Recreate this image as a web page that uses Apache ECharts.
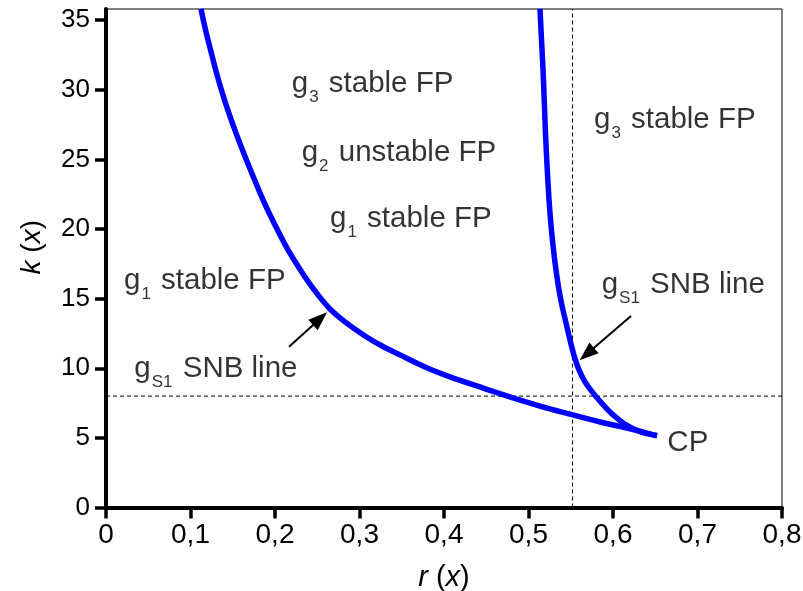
<!DOCTYPE html>
<html><head><meta charset="utf-8">
<script src="https://cdn.jsdelivr.net/npm/echarts@6/dist/echarts.min.js"></script>
<style>html,body{margin:0;padding:0;background:#fff}#c{width:803px;height:591px}</style>
</head><body><div id="c"></div>
<script>
// ---- data ----
const lowerBranch = [
  [0.1124,35.81],[0.1178,34.30],[0.1237,32.87],[0.1314,31.07],[0.1402,29.27],
  [0.1503,27.48],[0.1615,25.68],[0.1734,23.89],[0.1858,22.09],[0.2000,20.29],
  [0.2154,18.50],[0.2355,16.56],[0.2509,15.27],[0.2651,14.26],[0.2828,13.33],
  [0.3065,12.32],[0.3266,11.60],[0.3479,10.96],[0.3775,10.09],[0.4071,9.38],
  [0.4462,8.58],[0.4864,7.79],[0.5254,7.08],[0.5527,6.65],[0.5846,6.14],
  [0.6166,5.71],[0.6521,5.14]
];
const upperBranch = [
  [0.5136,35.81],[0.5154,33.59],[0.5172,31.43],[0.5186,29.27],[0.5201,26.90],
  [0.5219,24.60],[0.5243,22.09],[0.5266,20.29],[0.5296,18.50],[0.5325,17.06],
  [0.5361,15.63],[0.5400,14.40],[0.5444,13.25],[0.5491,12.03],[0.5544,10.81],
  [0.5598,9.88],[0.5669,9.02],[0.5763,8.23],[0.5864,7.51],[0.5964,6.86],
  [0.6059,6.36],[0.6154,5.93],[0.6272,5.57],[0.6391,5.32],[0.6521,5.17]
];
const hLineK = 8;
const vLineR = 0.552;
const xMin = 0, xMax = 0.8;
const yMin = 0, yMax = 35.8;
const xTicks = [0,0.1,0.2,0.3,0.4,0.5,0.6,0.7,0.8];
const xTickLabels = ['0','0,1','0,2','0,3','0,4','0,5','0,6','0,7','0,8'];
const yTicks = [0,5,10,15,20,25,30,35];
const yTickLabels = ['0','5','10','15','20','25','30','35'];
const annotations = [
  {base:'g', sub:'3', rest:' stable FP', r:0.2198, k:30.45},
  {base:'g', sub:'2', rest:' unstable FP', r:0.2316, k:25.44},
  {base:'g', sub:'1', rest:' stable FP', r:0.2651, k:20.7},
  {base:'g', sub:'1', rest:' stable FP', r:0.0213, k:16.26},
  {base:'g', sub:'S1', rest:' SNB line', r:0.0335, k:9.97},
  {base:'g', sub:'3', rest:' stable FP', r:0.5775, k:27.81},
  {base:'g', sub:'S1', rest:' SNB line', r:0.5866, k:15.96},
  {base:'CP', sub:'', rest:'', r:0.6643, k:4.66}
];
const arrows = [
  {from:[0.2166,11.55], to:[0.2533,13.56]},
  {from:[0.6213,13.76], to:[0.5690,11.02]}
];

// ---- chart ----
const FONT = 'Liberation Sans, Arial, sans-serif';
const chart = echarts.init(document.getElementById('c'), null, {renderer:'canvas'});
const richStyles = {
  m: {fontSize:29.5, fontFamily:FONT, color:'#000', lineHeight:44, verticalAlign:'middle'},
  s: {fontSize:17, fontFamily:FONT, color:'#000', lineHeight:8, verticalAlign:'bottom', padding:[0,2,0,1]}
};
function annText(a){
  let t = '{m|' + a.base + '}';
  if (a.sub) t += '{s|' + a.sub + '}';
  if (a.rest) t += '{m|' + a.rest + '}';
  return t;
}
const option = {
  animation: false,
  backgroundColor: '#fff',
  grid: {left:106, right:21, top:9, bottom:83.5, show:true, borderColor:'#000', borderWidth:1, containLabel:false, outerBoundsMode:'none'},
  xAxis: {
    type:'value', min:xMin, max:xMax, interval:0.1,
    name:'{i|r} ({i|x})', nameLocation:'middle', nameGap:56,
    nameTextStyle:{fontSize:29, fontFamily:FONT, color:'#000', rich:{i:{fontSize:29, fontFamily:FONT, fontStyle:'italic', color:'#000'}}},
    axisLine:{show:true, onZero:false, lineStyle:{color:'#000', width:4}},
    axisTick:{show:true, inside:false, length:11, lineStyle:{color:'#000', width:3.5}},
    splitLine:{show:false},
    axisLabel:{color:'#000', fontSize:28, fontFamily:FONT, margin:14,
      formatter:function(v){ const i = xTicks.findIndex(t=>Math.abs(t-v)<1e-6); return i>=0 ? xTickLabels[i] : ''; }}
  },
  yAxis: {
    type:'value', min:yMin, max:yMax, interval:5,
    name:'{i|k} ({i|x})', nameLocation:'middle', nameGap:60, nameRotate:90,
    nameTextStyle:{fontSize:28, fontFamily:FONT, color:'#000', padding:[0,0,0,22], rich:{i:{fontSize:28, fontFamily:FONT, fontStyle:'italic', color:'#000'}}},
    axisLine:{show:true, onZero:false, lineStyle:{color:'#000', width:4}},
    axisTick:{show:true, inside:false, length:11, lineStyle:{color:'#000', width:3.5}, customValues:yTicks},
    splitLine:{show:false},
    axisLabel:{color:'#000', fontSize:26, fontFamily:FONT, margin:16, customValues:yTicks,
      formatter:function(v){ const i = yTicks.findIndex(t=>Math.abs(t-v)<1e-6); return i>=0 ? yTickLabels[i] : ''; }}
  },
  series: [
    {type:'line', name:'hline', data:[[xMin,hLineK],[xMax,hLineK]], showSymbol:false, silent:true,
     lineStyle:{color:'#000', width:1, type:[4,3]}, z:1,
     markLine:{silent:true, symbol:['none','triangle'], symbolSize:[14,19], animation:false,
       lineStyle:{color:'#000', width:2, type:'solid'}, label:{show:false},
       data: arrows.map(a=>[{coord:a.from},{coord:a.to}])}},
    {type:'line', name:'vline', data:[[vLineR,yMin],[vLineR,yMax]], showSymbol:false, silent:true,
     lineStyle:{color:'#000', width:1, type:[4,3]}, z:1},
    {type:'line', name:'lower', data:lowerBranch, showSymbol:false, smooth:0.3, clip:true,
     lineStyle:{color:'#0000ff', width:5.5}, z:3},
    {type:'line', name:'upper', data:upperBranch, showSymbol:false, smooth:0.3, clip:true,
     lineStyle:{color:'#0000ff', width:5.5}, z:3},
    {type:'scatter', name:'labels', symbolSize:0, silent:true, z:5,
     data: annotations.map(a=>({value:[a.r,a.k], label:{formatter:annText(a)}})),
     label:{show:true, position:'right', distance:0, color:'#000', rich:richStyles}}
  ]
};
chart.setOption(option);
</script>
</body></html>
